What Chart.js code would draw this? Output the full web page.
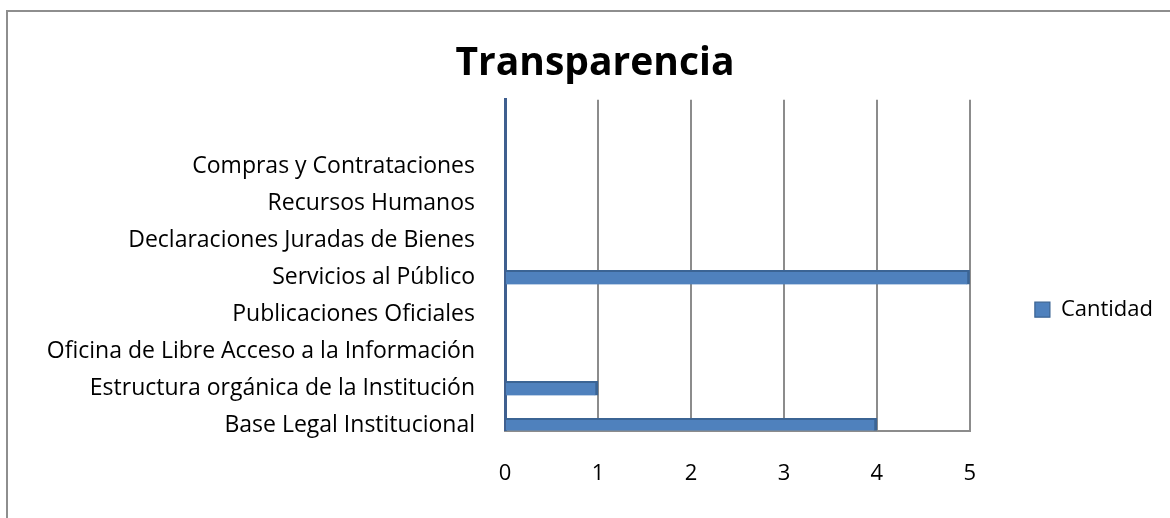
<!DOCTYPE html>
<html>
<head>
<meta charset="utf-8">
<script src="https://cdn.jsdelivr.net/npm/chart.js@4.4.1/dist/chart.umd.min.js"></script>
<style>
  html, body { margin: 0; padding: 0; background: #fff; overflow: hidden; }
  #wrap { position: relative; width: 1170px; height: 518px; }
  #frame { position: absolute; left: 6px; top: 10px; width: 1200px; height: 600px; border: 2px solid #8e8e8e; pointer-events: none; }
</style>
</head>
<body>
<div id="wrap">
  <canvas id="chart" width="1170" height="518"></canvas>
  <div id="frame"></div>
</div>
<script>
// categorías de abajo hacia arriba, como en la hoja original
const categories = [
    'Base Legal Institucional',
    'Estructura orgánica de la Institución',
    'Oficina de Libre Acceso a la Información',
    'Publicaciones Oficiales',
    'Servicios al Público',
    'Declaraciones Juradas de Bienes',
    'Recursos Humanos',
    'Compras y Contrataciones'
];
const cantidad = [4, 1, 0, 0, 5, 0, 0, 0];
const seriesLabel = 'Cantidad';
const chartTitle = 'Transparencia';

Chart.defaults.font.family = '"Open Sans", Lato, sans-serif';
Chart.defaults.color = '#000';

let ctx = document.getElementById('chart').getContext('2d');

new Chart(ctx, {
    type: 'bar',
    data: {
        datasets: [{
            label: seriesLabel,
            data: categories.map((c, i) => ({ x: cantidad[i], y: i })),
            backgroundColor: '#4f81bd',
            borderColor: '#3b6494',
            borderWidth: { top: 2, right: 3, bottom: 0, left: 0 },
            barThickness: 14
        }]
    },
    options: {
        indexAxis: 'y',
        responsive: false,
        animation: false,
        layout: {
            padding: { left: 27, right: 7, bottom: 1 }
        },
        plugins: {
            title: {
                display: true,
                text: chartTitle,
                font: { size: 39, weight: 'bold' },
                padding: { top: 40, bottom: 13 }
            },
            legend: {
                position: 'right',
                // título vacío solo para bajar la leyenda
                title: {
                    display: true,
                    text: '',
                    padding: { top: 88, bottom: 0 }
                },
                labels: {
                    boxWidth: 15,
                    boxHeight: 15,
                    padding: 65,
                    font: { size: 22 }
                }
            },
            tooltip: { enabled: false }
        },
        scales: {
            x: {
                min: 0,
                max: 5,
                ticks: {
                    stepSize: 1,
                    padding: 30,
                    font: { size: 22 }
                },
                grid: {
                    color: c => c.tick && c.tick.value === 0 ? 'rgba(0,0,0,0)' : '#8c8c8c',
                    lineWidth: 2,
                    drawTicks: false
                },
                border: { color: '#8c8c8c', width: 2 }
            },
            y: {
                type: 'linear',
                offset: false,
                min: -0.14,
                max: 8.8,
                afterFit: s => { s.width = 478; },
                ticks: {
                    stepSize: 1,
                    autoSkip: false,
                    includeBounds: false,
                    padding: 22,
                    font: { size: 23 },
                    callback: v => (Number.isInteger(v) && categories[v] !== undefined) ? categories[v] : ''
                },
                grid: { display: false },
                border: { display: true, color: '#3f5f8f', width: 3, dash: [6, 4] }
            }
        }
    }
});
</script>
</body>
</html>
